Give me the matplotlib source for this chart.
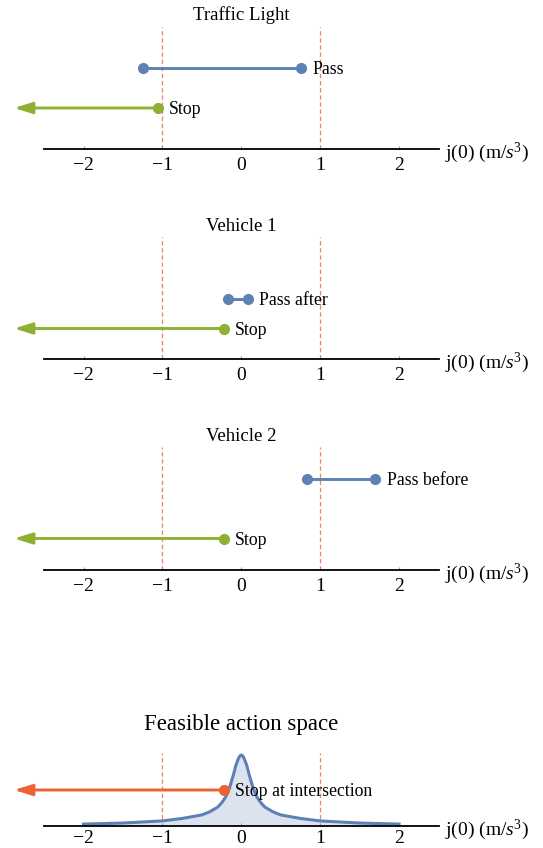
import matplotlib
matplotlib.use("Agg")
import matplotlib.pyplot as plt

# ---------------- data ----------------
panel_titles = ["Traffic Light", "Vehicle 1", "Vehicle 2", "Feasible action space"]
pass_labels = ["Pass", "Pass after", "Pass before"]
pass_lo = [-1.24, -0.17, 0.83]
pass_hi = [0.76, 0.08, 1.70]
stop_labels = ["Stop", "Stop", "Stop", "Stop at intersection"]
stop_limit = [-1.06, -0.22, -0.22, -0.22]
stop_tip = -2.88
bounds = [-1.0, 1.0]
tick_values = [-2, -1, 0, 1, 2]
axis_label = "j(0) (m/$s^3$)"

# feasible-action density (relative height)
dens_x = [-2.0, -1.5, -1.0, -0.75, -0.5, -0.4, -0.3, -0.25, -0.2, -0.15, -0.1, -0.07,
          -0.04, -0.02, 0.0, 0.02, 0.04, 0.07, 0.1, 0.15, 0.2, 0.25, 0.3, 0.4, 0.5,
          0.75, 1.0, 1.5, 2.0]
dens_y = [0.02, 0.035, 0.065, 0.10, 0.15, 0.195, 0.26, 0.32, 0.40, 0.53, 0.72, 0.85,
          0.94, 0.985, 1.0, 0.985, 0.94, 0.85, 0.72, 0.53, 0.40, 0.32, 0.26, 0.195, 0.15,
          0.10, 0.065, 0.035, 0.02]

# ---------------- style ----------------
BLUE = "#5E81B5"
GREEN = "#8FB032"
ORANGE = "#EB6235"
DASH = "#EF8266"
FILL = "#DCE3EF"

plt.rcParams["font.family"] = ["Liberation Serif", "DejaVu Serif"]
plt.rcParams["mathtext.fontset"] = "custom"
plt.rcParams["mathtext.rm"] = "Liberation Serif"
plt.rcParams["mathtext.it"] = "Liberation Serif:italic"

W, H = 543, 848
fig = plt.figure(figsize=(W / 100, H / 100), dpi=100)

px_per_unit = 78.9
x_zero = 241.3
xlim = (-x_zero / px_per_unit, (W - x_zero) / px_per_unit)

# layout: (axis line px, top of dashes px, title centre px, pass row frac, stop row frac)
layout = [
    (149, 27, 15, 81 / 122, 41 / 122),
    (358.5, 237, 226.5, 60 / 121.5, 30 / 121.5),
    (569.5, 447, 436.5, 91 / 122.5, 31 / 122.5),
    (825.5, 752.5, 724.5, None, 35.5 / 73),
]

for i, (axis_px, top_px, title_px, pass_y, stop_y) in enumerate(layout):
    ax = fig.add_axes([0, 1 - axis_px / H, 1, (axis_px - top_px) / H])
    ax.set_xlim(*xlim)
    ymax = 1.0
    if i == 3:
        ymax = 73 / 70.5
    ax.set_ylim(0, ymax)
    for s in ["top", "left", "right"]:
        ax.spines[s].set_visible(False)
    ax.spines["bottom"].set_bounds(-2.5, 2.5)
    ax.spines["bottom"].set_linewidth(1.3)
    ax.set_yticks([])
    ax.set_xticks(tick_values)
    ax.set_xticklabels([f"{v}".replace("-", "\u2212") for v in tick_values])
    ax.tick_params(axis="x", direction="in", length=2.5, width=0.8, color="#999999",
                   labelsize=14, pad=6 if i < 3 else 3.5)
    ax.patch.set_alpha(0)

    for b in bounds:
        ax.axvline(b, ymin=0, ymax=1, color=DASH, lw=0.9, ls=(0, (3.5, 2.2)), zorder=1)

    ys = ymax * stop_y
    if i < 3:
        py = pass_y
        ax.plot([pass_lo[i], pass_hi[i]], [py, py], color=BLUE, lw=2.1,
                marker="o", ms=7, zorder=3, clip_on=False)
        ax.annotate(pass_labels[i], (pass_hi[i], py), xytext=(8, 0),
                    textcoords="offset points", va="center_baseline", ha="left",
                    fontsize=12.8)
        scol = GREEN
    else:
        ax.fill_between(dens_x, dens_y, 0, color=FILL, lw=0, zorder=1.5)
        ax.plot(dens_x, dens_y, color=BLUE, lw=2.2, zorder=2, solid_joinstyle="round")
        scol = ORANGE

    ax.annotate("", xy=(stop_tip, ys), xytext=(stop_limit[i], ys),
                arrowprops=dict(arrowstyle="-|>,head_length=0.9,head_width=0.28",
                                color=scol, lw=2.1, mutation_scale=12,
                                shrinkA=0, shrinkB=0),
                zorder=3, annotation_clip=False)
    ax.plot([stop_limit[i]], [ys], "o", color=scol, ms=7, zorder=4, clip_on=False)
    ax.annotate(stop_labels[i], (stop_limit[i], ys), xytext=(8, 0),
                textcoords="offset points", va="center_baseline", ha="left",
                fontsize=12.8, zorder=5)

    fig.text(445 / W, 1 - (axis_px + 4) / H, axis_label, ha="left", va="center",
             fontsize=14)
    fig.text(x_zero / W, 1 - title_px / H, panel_titles[i], ha="center", va="center",
             fontsize=16.5 if i == 3 else 13.5)

fig.savefig("out.png", dpi=100)
